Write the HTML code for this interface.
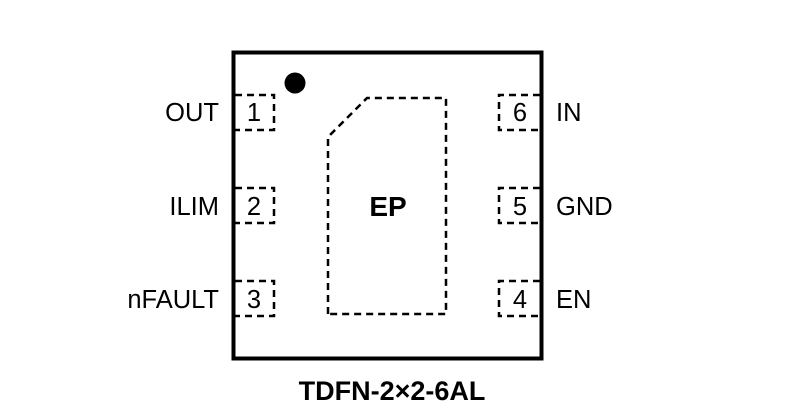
<!DOCTYPE html>
<html><head><style>body{margin:0;background:#fff}svg{display:block}</style></head><body>
<svg width="808" height="418" viewBox="0 0 808 418" font-family="Liberation Sans, Arial, sans-serif">
<rect x="233.5" y="52.5" width="308" height="306" fill="none" stroke="#000" stroke-width="4"/>
<circle cx="295" cy="83" r="10.5" fill="#000"/>
<g fill="none" stroke="#000" stroke-width="2.5" stroke-dasharray="7,5">
<path d="M235 95 H274 V130 H235"/>
<path d="M235 188 H274 V223 H235"/>
<path d="M235 281 H274 V316 H235"/>
<path d="M540 95 H499 V130 H540"/>
<path d="M540 188 H499 V223 H540"/>
<path d="M540 281 H499 V316 H540"/>
<path d="M328 314 V137 L367 98 H446 V314 Z"/>
</g>
<g font-size="25.5" fill="#000">
<text x="254" y="121" text-anchor="middle">1</text>
<text x="254" y="215" text-anchor="middle">2</text>
<text x="254" y="308" text-anchor="middle">3</text>
<text x="520" y="121" text-anchor="middle">6</text>
<text x="520" y="215" text-anchor="middle">5</text>
<text x="520" y="308" text-anchor="middle">4</text>
<text x="219" y="121" text-anchor="end">OUT</text>
<text x="219" y="215" text-anchor="end">ILIM</text>
<text x="219" y="308" text-anchor="end">nFAULT</text>
<text x="556" y="121">IN</text>
<text x="556" y="215">GND</text>
<text x="556" y="308">EN</text>
<text x="388" y="216" text-anchor="middle" font-weight="bold" font-size="28">EP</text>
<text x="392" y="400" text-anchor="middle" font-weight="bold" font-size="27">TDFN-2×2-6AL</text>
</g>
</svg>
</body></html>
